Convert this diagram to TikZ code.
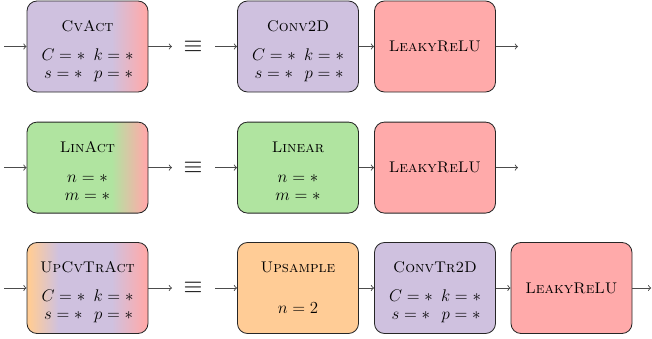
\documentclass[tikz,border=0pt]{standalone}
\usetikzlibrary{positioning}

\definecolor{convc}{RGB}{207,193,223}
\definecolor{actc}{RGB}{255,170,170}
\definecolor{linc}{RGB}{176,228,160}
\definecolor{upc}{RGB}{255,204,150}

\pgfdeclarehorizontalshading{cvactshade}{100bp}{color(0bp)=(convc); color(60bp)=(convc); color(74bp)=(actc); color(100bp)=(actc)}
\pgfdeclarehorizontalshading{linactshade}{100bp}{color(0bp)=(linc); color(60bp)=(linc); color(74bp)=(actc); color(100bp)=(actc)}
\pgfdeclarehorizontalshading{upactshade}{100bp}{color(0bp)=(upc); color(26bp)=(upc); color(38bp)=(convc); color(60bp)=(convc); color(74bp)=(actc); color(100bp)=(actc)}

\begin{document}
\begin{tikzpicture}[
  blk/.style={rectangle, draw=black!85, line width=0.6pt, rounded corners=0.25cm,
    minimum width=3.025cm, minimum height=2.275cm},
  convbox/.style={blk, fill=convc},
  actbox/.style={blk, fill=actc},
  linbox/.style={blk, fill=linc},
  upbox/.style={blk, fill=upc},
  cvactbox/.style={blk, shading=cvactshade},
  linactbox/.style={blk, shading=linactshade},
  upactbox/.style={blk, shading=upactshade},
  ttl/.style={font=\fontsize{11}{13}\selectfont\scshape},
  prm/.style={inner sep=0pt, font=\large},
  eqv/.style={font=\LARGE},
  conn/.style={->, draw=black!70, line width=0.65pt},
]
\useasboundingbox (0,0) rectangle (16.3,-8.45);
\renewcommand{\arraystretch}{0.93}
\setlength{\arraycolsep}{3pt}

% Row 1: CvAct
\coordinate (in1) at (0.1, -1.1625);
\node[cvactbox] (cvact) at (2.1875, -1.1625) {};
\node[ttl] at ([yshift=0.51cm]cvact.center) {CvAct};
\node[prm] at ([yshift=-0.475cm]cvact.center) {$\begin{array}{cc} C=* & k=*\\ s=* & p=* \end{array}$};
\coordinate (eqa1) at (4.3, -1.1625);
\node[eqv] (eq1) at (4.825, -1.1625) {$\equiv$};
\coordinate (eqb1) at (5.375, -1.1625);
\node[convbox] (conv) at (7.45, -1.1625) {};
\node[ttl] at ([yshift=0.51cm]conv.center) {Conv2D};
\node[prm] at ([yshift=-0.475cm]conv.center) {$\begin{array}{cc} C=* & k=*\\ s=* & p=* \end{array}$};
\node[actbox, ttl] (lrelu1) at (10.875, -1.1625) {LeakyReLU};
\coordinate (out1) at (12.95, -1.1625);
\draw[conn] (in1) -- (cvact);
\draw[conn] (cvact) -- (eqa1);
\draw[conn] (eqb1) -- (conv);
\draw[conn] (conv) -- (lrelu1);
\draw[conn] (lrelu1) -- (out1);

% Row 2: LinAct
\coordinate (in2) at (0.1, -4.19);
\node[linactbox] (linact) at (2.1875, -4.19) {};
\node[ttl] at ([yshift=0.51cm]linact.center) {LinAct};
\node[prm] at ([yshift=-0.5cm]linact.center) {$\begin{array}{c} n=*\\ m=* \end{array}$};
\coordinate (eqa2) at (4.3, -4.19);
\node[eqv] (eq2) at (4.825, -4.19) {$\equiv$};
\coordinate (eqb2) at (5.375, -4.19);
\node[linbox] (lin) at (7.45, -4.19) {};
\node[ttl] at ([yshift=0.51cm]lin.center) {Linear};
\node[prm] at ([yshift=-0.5cm]lin.center) {$\begin{array}{c} n=*\\ m=* \end{array}$};
\node[actbox, ttl] (lrelu2) at (10.875, -4.19) {LeakyReLU};
\coordinate (out2) at (12.95, -4.19);
\draw[conn] (in2) -- (linact);
\draw[conn] (linact) -- (eqa2);
\draw[conn] (eqb2) -- (lin);
\draw[conn] (lin) -- (lrelu2);
\draw[conn] (lrelu2) -- (out2);

% Row 3: UpCvTrAct
\coordinate (in3) at (0.1, -7.2);
\node[upactbox] (upact) at (2.1875, -7.2) {};
\node[ttl] at ([yshift=0.51cm]upact.center) {UpCvTrAct};
\node[prm] at ([yshift=-0.475cm]upact.center) {$\begin{array}{cc} C=* & k=*\\ s=* & p=* \end{array}$};
\coordinate (eqa3) at (4.3, -7.2);
\node[eqv] (eq3) at (4.825, -7.2) {$\equiv$};
\coordinate (eqb3) at (5.375, -7.2);
\node[upbox] (up) at (7.45, -7.2) {};
\node[ttl] at ([yshift=0.51cm]up.center) {Upsample};
\node[prm] at ([yshift=-0.5cm]up.center) {$n=2$};
\node[convbox] (convtr) at (10.875, -7.2) {};
\node[ttl] at ([yshift=0.51cm]convtr.center) {ConvTr2D};
\node[prm] at ([yshift=-0.475cm]convtr.center) {$\begin{array}{cc} C=* & k=*\\ s=* & p=* \end{array}$};
\node[actbox, ttl] (lrelu3) at (14.2875, -7.2) {LeakyReLU};
\coordinate (out3) at (16.28, -7.2);
\draw[conn] (in3) -- (upact);
\draw[conn] (upact) -- (eqa3);
\draw[conn] (eqb3) -- (up);
\draw[conn] (up) -- (convtr);
\draw[conn] (convtr) -- (lrelu3);
\draw[conn] (lrelu3) -- (out3);

\end{tikzpicture}
\end{document}
